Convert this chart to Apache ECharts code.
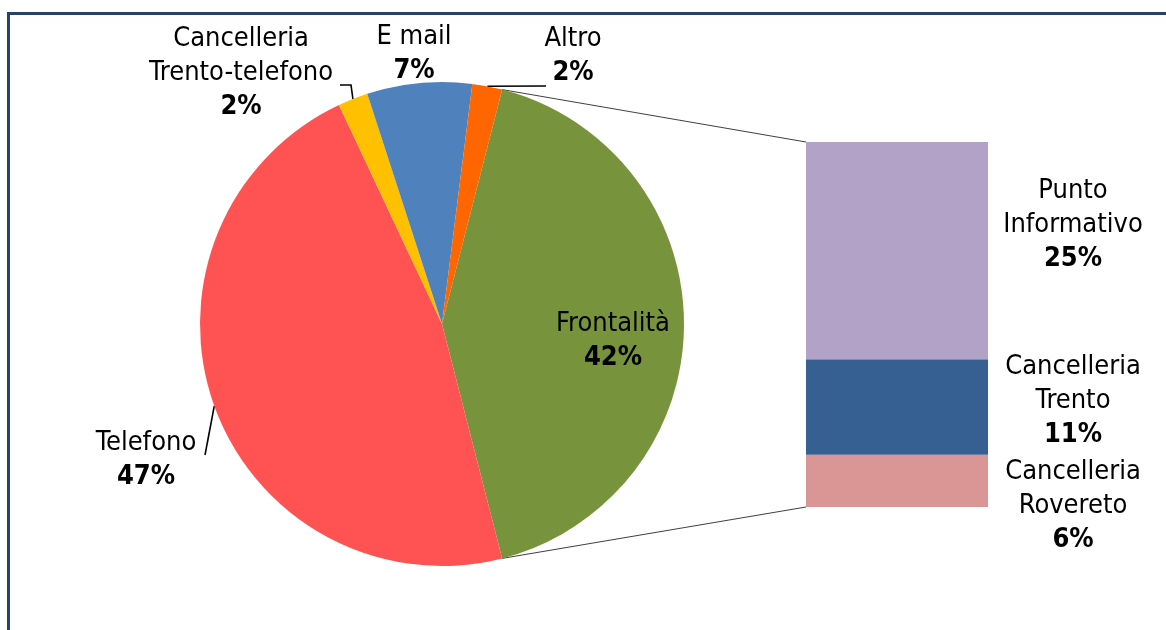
<!DOCTYPE html>
<html>
<head>
  <meta charset="utf-8">
  <title>Canali di contatto</title>
  <script src="https://cdn.jsdelivr.net/npm/echarts@6/dist/echarts.min.js"></script>
  <style>
    html, body { margin: 0; padding: 0; background: #fff; }
    #chart { width: 1166px; height: 630px; }
  </style>
</head>
<body>
  <div id="chart"></div>
  <script>
    // Pie slices (percent), clockwise from the right-hand "other" slice
    const pieNames = ['Frontalità', 'Telefono', 'Cancelleria Trento-telefono', 'E mail', 'Altro'];
    const pieValues = [42, 47, 2, 7, 2];
    const pieColors = ['#77933C', '#FF5353', '#FFC000', '#4F81BD', '#FF6600'];

    // Breakdown of Frontalità, drawn bottom to top
    const barNames = ['Cancelleria Rovereto', 'Cancelleria Trento', 'Punto Informativo'];
    const barValues = [6, 11, 25];
    const barColors = ['#D99694', '#376092', '#B3A2C7'];

    const FONT = "'DejaVu Sans Condensed', 'DejaVu Sans', sans-serif";
    const pieCenter = [442, 324];
    const pieRadius = 242;

    // split long names on the first space
    function wrap(name) {
      return name.length > 10 ? name.replace(' ', '\n') : name;
    }

    const rich = {
      n: { fontFamily: FONT, fontSize: 27, lineHeight: 34, color: '#000', align: 'center' },
      p: { fontFamily: FONT, fontSize: 27, lineHeight: 34, color: '#000', fontWeight: 'bold', align: 'center' }
    };

    function labelText(name, value) {
      return wrap(name).split('\n').map(s => '{n|' + s + '}').join('\n') + '\n{p|' + value + '%}';
    }

    const pieTotal = pieValues.reduce((a, b) => a + b, 0);
    const otherSpan = pieValues[0] / pieTotal * 360;
    const startAngle = otherSpan / 2;

    // label anchor (block centre) and leader line bends for the pie labels
    const pieLabelPos = {
      0: { x: 613, y: 341 },
      1: { x: 146, y: 460, line: [[205, 455]] },
      2: { x: 241, y: 73, line: [[351, 85], [340, 85]] },
      3: { x: 414, y: 54 },
      4: { x: 573, y: 56, line: [[546, 86]] }
    };

    function edgePoint(angleFromTop) {
      const a = angleFromTop * Math.PI / 180;
      return [pieCenter[0] + pieRadius * Math.sin(a), pieCenter[1] - pieRadius * Math.cos(a)];
    }

    // mid angle (clockwise from 12 o'clock) of each slice
    const midAngles = [];
    let acc = 90 - startAngle;
    pieValues.forEach(v => {
      const span = v / pieTotal * 360;
      midAngles.push(acc + span / 2);
      acc += span;
    });

    const chart = echarts.init(document.getElementById('chart'));

    const barSeries = barNames.map((name, i) => ({
      name: name,
      type: 'bar',
      stack: 'other',
      barWidth: '100%',
      data: [barValues[i]],
      itemStyle: { color: barColors[i] },
      label: {
        show: true,
        position: [267, '50%'],
        align: 'center',
        verticalAlign: 'middle',
        offset: [0, [25, -6, -26][i]],
        formatter: () => labelText(name, barValues[i]),
        rich: rich
      },
      silent: true
    }));

    chart.setOption({
      animation: false,
      backgroundColor: '#fff',
      grid: { left: 806, top: 142, width: 182, height: 365 },
      xAxis: { type: 'category', data: ['Frontalità'], show: false },
      yAxis: { type: 'value', min: 0, max: barValues.reduce((a, b) => a + b, 0), show: false },
      series: [
        {
          type: 'pie',
          center: pieCenter,
          radius: pieRadius,
          startAngle: startAngle,
          clockwise: true,
          silent: true,
          data: pieNames.map((n, i) => ({ name: n, value: pieValues[i], itemStyle: { color: pieColors[i] } })),
          label: {
            show: true,
            position: 'outside',
            formatter: p => labelText(p.name, p.value),
            rich: rich
          },
          labelLine: {
            show: true,
            lineStyle: { color: '#000', width: 1.6 }
          },
          labelLayout: params => {
            const cfg = pieLabelPos[params.dataIndex];
            const out = { x: cfg.x, y: cfg.y, align: 'center', verticalAlign: 'middle' };
            if (cfg.line) {
              out.labelLinePoints = [edgePoint(midAngles[params.dataIndex])].concat(cfg.line);
            } else {
              out.labelLinePoints = [[cfg.x, cfg.y], [cfg.x, cfg.y]];
            }
            return out;
          }
        }
      ].concat(barSeries)
    });

    // connector lines from the "other" slice edges to the bar corners
    const topEdge = edgePoint(90 - startAngle);
    const botEdge = edgePoint(90 + startAngle);
    const barTop = chart.convertToPixel({ gridIndex: 0 }, [0, barValues.reduce((a, b) => a + b, 0)]);
    const barBot = chart.convertToPixel({ gridIndex: 0 }, [0, 0]);
    const barLeft = barTop[0] - 91;

    chart.setOption({
      graphic: [
        {
          type: 'rect',
          shape: { x: 8.5, y: 13.5, width: 1300, height: 800 },
          style: { fill: 'none', stroke: '#28436A', lineWidth: 3 },
          silent: true
        },
        {
          type: 'line',
          shape: { x1: topEdge[0], y1: topEdge[1], x2: barLeft, y2: barTop[1] },
          style: { stroke: '#404040', lineWidth: 1 },
          silent: true
        },
        {
          type: 'line',
          shape: { x1: botEdge[0], y1: botEdge[1], x2: barLeft, y2: barBot[1] },
          style: { stroke: '#404040', lineWidth: 1 },
          silent: true
        }
      ]
    });
  </script>
</body>
</html>
